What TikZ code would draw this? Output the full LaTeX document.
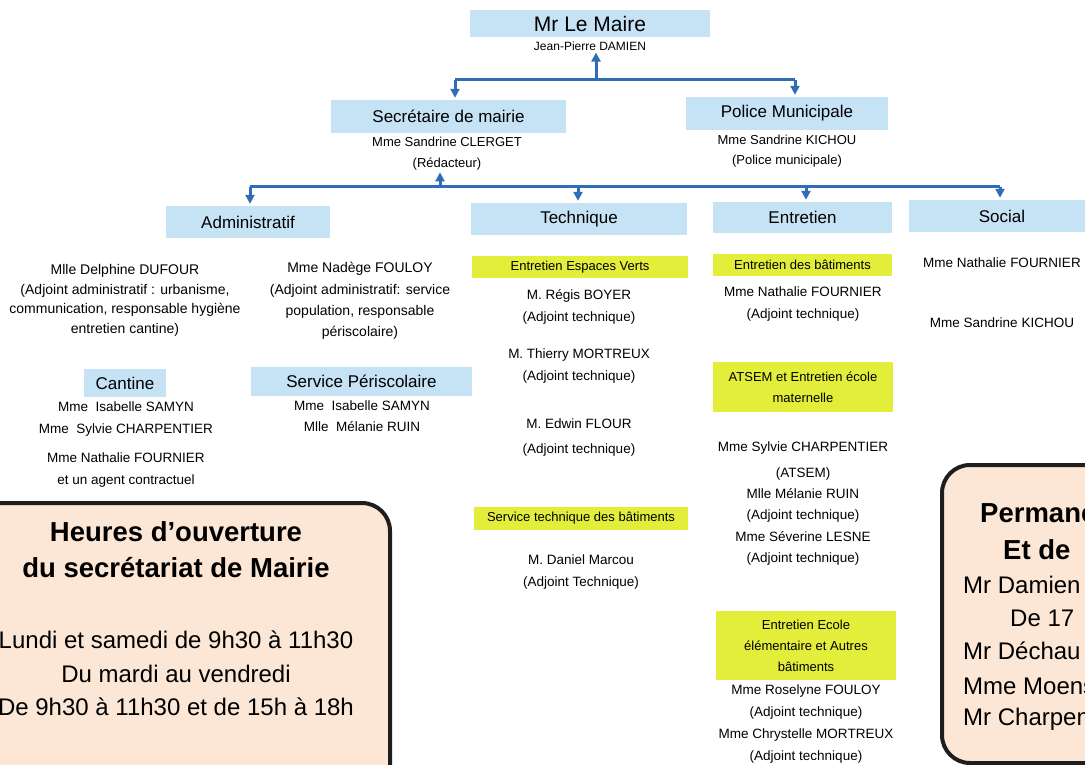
\documentclass[tikz,border=0pt]{standalone}
\usepackage{fontspec}
\setmainfont{Liberation Sans}
\usetikzlibrary{arrows.meta}
\definecolor{bleuboite}{HTML}{C6E2F5}
\definecolor{bleufleche}{HTML}{2F6DB5}
\definecolor{jaunevif}{HTML}{E2EE3A}
\definecolor{peche}{HTML}{FCE7D6}
\definecolor{bordure}{HTML}{1E1E1E}
\tikzset{
  boite/.style={fill=bleuboite, inner sep=0pt, font=\fontsize{17}{20}\selectfont},
  surligne/.style={fill=jaunevif, inner sep=0pt, align=center, font=\fontsize{13}{21}\selectfont},
  nom/.style={align=center, inner sep=0pt, font=\fontsize{13.5}{22}\selectfont},
  fleche/.style={draw=bleufleche, line width=3pt, -{Triangle[length=9pt,width=9pt]}, shorten >=2pt},
  trait/.style={draw=bleufleche, line width=3pt},
  cadre/.style={draw=bordure, fill=peche, line width=4pt, rounded corners=28pt},
  grand/.style={align=center, inner sep=0pt, font=\fontsize{24}{33.5}\selectfont},
  titre/.style={align=center, inner sep=0pt, font=\bfseries\fontsize{27.5}{36}\selectfont},
}
\begin{document}
\begin{tikzpicture}[x=1pt,y=-1pt]
  \useasboundingbox (0,0) rectangle (1085,765);
  \clip (0,0) rectangle (1085,765);

  % le maire et les deux services
  \node[boite, minimum width=240pt, minimum height=27pt, font=\fontsize{21}{24}\selectfont] (maire) at (590,23.5) {Mr Le Maire};
  \node[nom, font=\fontsize{12}{14}\selectfont] (maireNom) at (590,46) {Jean-Pierre DAMIEN};
  \node[boite, minimum width=235pt, minimum height=33pt] (secr) at (448.5,116.5) {Secrétaire de mairie};
  \node[nom, font=\fontsize{13}{22}\selectfont] (secrNom) at (447,142) {Mme Sandrine CLERGET};
  \node[nom, font=\fontsize{13}{22}\selectfont] (secrGrade) at (447,164) {(Rédacteur)};
  \node[boite, minimum width=202pt, minimum height=33pt] (police) at (787,113.5) {Police Municipale};
  \node[nom, font=\fontsize{13}{22}\selectfont] (policeNom) at (787,140) {Mme Sandrine KICHOU};
  \node[nom, font=\fontsize{13}{22}\selectfont] (policeGrade) at (787,161) {(Police municipale)};

  % les quatre poles
  \node[boite, minimum width=164pt, minimum height=32pt] (admin) at (248,222) {Administratif};
  \node[boite, minimum width=216pt, minimum height=32pt] (tech) at (579,219) {Technique};
  \node[boite, minimum width=179pt, minimum height=31pt] (entr) at (802.5,217.5) {Entretien};
  \node[boite, minimum width=186pt, minimum height=32pt] (social) at (1002,216) {Social};

  % fleches
  \coordinate (n1) at (596,80);
  \coordinate (g1) at (455,80);
  \coordinate (d1) at (795,80);
  \draw[trait] (g1) -- (d1);
  \draw[fleche] (n1) -- (n1 |- maireNom.south);
  \draw[fleche] (g1) -- (g1 |- secr.north);
  \draw[fleche] (d1) -- (d1 |- police.north);
  \coordinate (n2) at (440,187);
  \coordinate (g2) at (250,187);
  \coordinate (m2) at (578,187);
  \coordinate (e2) at (806,187);
  \coordinate (d2) at (1000,187);
  \draw[trait] (g2) -- (d2);
  \draw[fleche] (n2) -- (n2 |- secrGrade.south);
  \draw[fleche] (g2) -- (g2 |- admin.north);
  \draw[fleche] (m2) -- (m2 |- tech.north);
  \draw[fleche] (e2) -- (e2 |- entr.north);
  \draw[fleche] (d2) -- (d2 |- social.north);

  % administratif
  \node[nom, font=\fontsize{14}{19.7}\selectfont] (dufour) at (125,300.5) {Mlle Delphine DUFOUR\\(Adjoint administratif : urbanisme,\\communication, responsable hygiène\\entretien cantine)};
  \node[nom, font=\fontsize{14}{21.3}\selectfont] (fouloy) at (360,301) {Mme Nadège FOULOY\\(Adjoint administratif: service\\population, responsable\\périscolaire)};
  \node[boite, minimum width=82pt, minimum height=28pt] (cantine) at (125,383) {Cantine};
  \node[boite, minimum width=221pt, minimum height=29pt] (peri) at (361.5,381.5) {Service Périscolaire};
  \node[nom] (cantineNoms) at (126,419) {Mme\ \ Isabelle SAMYN\\Mme\ \ Sylvie CHARPENTIER};
  \node[nom] (cantineAutres) at (126,470) {Mme Nathalie FOURNIER\\et un agent contractuel};
  \node[nom, font=\fontsize{13.5}{21}\selectfont] (periNoms) at (362,416.5) {Mme\ \ Isabelle SAMYN\\Mlle\ \ Mélanie RUIN};

  % technique
  \node[surligne, minimum width=216pt, minimum height=22pt] (verts) at (580,267) {Entretien Espaces Verts};
  \node[nom] (boyer) at (579,307) {M. Régis BOYER\\(Adjoint technique)};
  \node[nom] (mortreux) at (579,366) {M. Thierry MORTREUX\\(Adjoint technique)};
  \node[nom, font=\fontsize{13.5}{25}\selectfont] (flour) at (579,437.5) {M. Edwin FLOUR\\(Adjoint technique)};
  \node[surligne, minimum width=214pt, minimum height=23pt] (stbat) at (581,518.5) {Service technique des bâtiments};
  \node[nom] (marcou) at (581,572) {M. Daniel Marcou\\(Adjoint Technique)};

  % entretien
  \node[surligne, minimum width=179pt, minimum height=22pt] (entbat) at (802.5,265) {Entretien des bâtiments};
  \node[nom] (entFournier) at (803,304) {Mme Nathalie FOURNIER\\(Adjoint technique)};
  \node[surligne, minimum width=180pt, minimum height=50pt] (atsem) at (803,387) {ATSEM et Entretien école\\maternelle};
  \node[nom] (charpentier) at (803,448) {Mme Sylvie CHARPENTIER};
  \node[nom, font=\fontsize{13.5}{21.25}\selectfont] (atsemNoms) at (803,516.5) {(ATSEM)\\Mlle Mélanie RUIN\\(Adjoint technique)\\Mme Séverine LESNE\\(Adjoint technique)};
  \node[surligne, minimum width=180pt, minimum height=69pt] (ecole) at (806,645.5) {Entretien Ecole\\élémentaire et Autres\\bâtiments};
  \node[nom] (ecoleNoms) at (806,724) {Mme Roselyne FOULOY\\(Adjoint technique)\\Mme Chrystelle MORTREUX\\(Adjoint technique)};

  % social
  \node[nom] (socFournier) at (1002,263) {Mme Nathalie FOURNIER};
  \node[nom] (socKichou) at (1002,323) {Mme Sandrine KICHOU};

  % horaires
  \draw[cadre] (-40,503) rectangle (390,800);
  \node[titre] (horTitre) at (176,550) {Heures d'ouverture\\du secrétariat de Mairie};
  \node[grand] (horJours) at (176,673.5) {Lundi et samedi de 9h30 à 11h30\\Du mardi au vendredi\\De 9h30 à 11h30 et de 15h à 18h};

  % permanences
  \draw[cadre] (942,465) rectangle (1140,763);
  \node[titre, anchor=west] (perm1) at (980,513) {Permane};
  \node[titre, anchor=west] (perm2) at (1003,550) {Et de};
  \node[grand, anchor=west] (perm3) at (963,585) {Mr Damien};
  \node[grand, anchor=west] (perm4) at (1010,618) {De 17};
  \node[grand, anchor=west] (perm5) at (963,651) {Mr Déchau};
  \node[grand, anchor=west] (perm6) at (963,686) {Mme Moens};
  \node[grand, anchor=west] (perm7) at (963,719) {Mr Charpen};
\end{tikzpicture}
\end{document}
